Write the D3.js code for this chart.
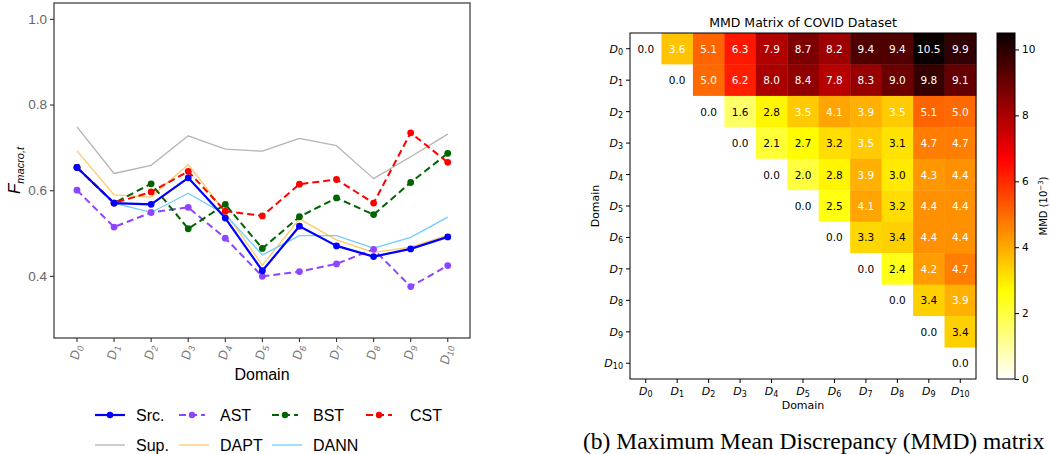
<!DOCTYPE html>
<html>
<head>
<meta charset="utf-8">
<script src="https://cdn.jsdelivr.net/npm/d3@7"></script>
<style>
  html, body { margin: 0; padding: 0; background: #fff; }
  svg { display: block; }
</style>
</head>
<body>
<svg id="chart" width="1050" height="454"></svg>
<script>
// ---------------- Data ----------------
const domains = ["0","1","2","3","4","5","6","7","8","9","10"];
const yTicks = [0.4, 0.6, 0.8, 1.0];

const srcVals  = [0.653, 0.570, 0.567, 0.629, 0.535, 0.412, 0.516, 0.470, 0.445, 0.463, 0.491];
const astVals  = [0.600, 0.514, 0.548, 0.560, 0.488, 0.399, 0.410, 0.428, 0.462, 0.375, 0.424];
const bstVals  = [0.653, 0.570, 0.615, 0.510, 0.567, 0.464, 0.538, 0.582, 0.543, 0.618, 0.686];
const cstVals  = [0.653, 0.570, 0.596, 0.644, 0.551, 0.540, 0.614, 0.625, 0.570, 0.734, 0.665];
const supVals  = [0.748, 0.639, 0.658, 0.727, 0.696, 0.691, 0.721, 0.704, 0.627, 0.678, 0.731];
const daptVals = [0.692, 0.589, 0.584, 0.660, 0.548, 0.425, 0.533, 0.484, 0.455, 0.467, 0.495];
const dannVals = [0.653, 0.570, 0.548, 0.593, 0.543, 0.449, 0.494, 0.494, 0.465, 0.490, 0.537];

const seriesNames = ["Src.", "AST", "BST", "CST", "Sup.", "DAPT", "DANN"];

// MMD upper-triangle rows (row i starts at column i), units 1e-3
const mmdRows = [
  [0.0, 3.6, 5.1, 6.3, 7.9, 8.7, 8.2, 9.4, 9.4, 10.5, 9.9],
  [0.0, 5.0, 6.2, 8.0, 8.4, 7.8, 8.3, 9.0, 9.8, 9.1],
  [0.0, 1.6, 2.8, 3.5, 4.1, 3.9, 3.5, 5.1, 5.0],
  [0.0, 2.1, 2.7, 3.2, 3.5, 3.1, 4.7, 4.7],
  [0.0, 2.0, 2.8, 3.9, 3.0, 4.3, 4.4],
  [0.0, 2.5, 4.1, 3.2, 4.4, 4.4],
  [0.0, 3.3, 3.4, 4.4, 4.4],
  [0.0, 2.4, 4.2, 4.7],
  [0.0, 3.4, 3.9],
  [0.0, 3.4],
  [0.0]
];
const cbarTicks = [0, 2, 4, 6, 8, 10];

// ---------------- Styles ----------------
const styles = {
  "Src.": {color: "#0000ff", width: 2.2, dash: null, marker: true},
  "AST":  {color: "#8f45ff", width: 2.0, dash: "7,4", marker: true},
  "BST":  {color: "#006400", width: 2.0, dash: "7,4", marker: true},
  "CST":  {color: "#ff0000", width: 2.0, dash: "7,4", marker: true},
  "Sup.": {color: "#b4b4b4", width: 1.3, dash: null, marker: false},
  "DAPT": {color: "#ffc966", width: 1.3, dash: null, marker: false},
  "DANN": {color: "#70ccff", width: 1.3, dash: null, marker: false}
};
const seriesData = {
  "Src.": srcVals, "AST": astVals, "BST": bstVals, "CST": cstVals,
  "Sup.": supVals, "DAPT": daptVals, "DANN": dannVals
};
const drawOrder = ["Sup.", "DAPT", "DANN", "AST", "BST", "CST", "Src."];

const svg = d3.select("#chart");
const SANS = "'Liberation Sans', Arial, sans-serif";
const DJ = "'DejaVu Sans', sans-serif";

// ---------------- Left line chart ----------------
const L = {x0: 54, x1: 470, y0: 3, y1: 338};
const x = d3.scaleLinear().domain([-0.62, 10.6]).range([L.x0, L.x1]);
const y = d3.scaleLinear().domain([0.255, 1.037]).range([L.y1, L.y0]);

const left = svg.append("g");

const line = d3.line().x((d, i) => x(i)).y(d => y(d));
drawOrder.forEach(name => {
  const s = styles[name];
  left.append("path")
    .datum(seriesData[name])
    .attr("d", line)
    .attr("fill", "none")
    .attr("stroke", s.color)
    .attr("stroke-width", s.width)
    .attr("stroke-dasharray", s.dash)
    .attr("stroke-linejoin", "round");
  if (s.marker) {
    left.selectAll(null).data(seriesData[name]).enter().append("circle")
      .attr("cx", (d, i) => x(i)).attr("cy", d => y(d)).attr("r", 3.4)
      .attr("fill", s.color);
  }
});

// frame
left.append("rect")
  .attr("x", L.x0).attr("y", L.y0)
  .attr("width", L.x1 - L.x0).attr("height", L.y1 - L.y0)
  .attr("fill", "none").attr("stroke", "#333").attr("stroke-width", 1.2);

// y axis
const yAxis = d3.axisLeft(y).tickValues(yTicks).tickFormat(d3.format(".1f")).tickSize(4).tickPadding(3);
const yg = left.append("g").attr("transform", `translate(${L.x0},0)`).call(yAxis);
yg.select(".domain").remove();
yg.selectAll("line").attr("stroke", "#333").attr("stroke-width", 1.1);
yg.selectAll("text").attr("font-family", SANS).attr("font-size", 13.5).attr("fill", "#666");

// x axis ticks
const xg = left.append("g");
domains.forEach((d, i) => {
  xg.append("line").attr("x1", x(i)).attr("x2", x(i)).attr("y1", L.y1).attr("y2", L.y1 + 4)
    .attr("stroke", "#333").attr("stroke-width", 1.1);
  const t = xg.append("text")
    .attr("transform", `translate(${x(i) + 4},${L.y1 + 8}) rotate(-80)`)
    .attr("text-anchor", "end")
    .attr("font-family", SANS).attr("font-size", 13).attr("fill", "#777")
    .attr("font-style", "italic");
  t.append("tspan").text("D");
  t.append("tspan").attr("font-size", 9).attr("dy", 3).text(d);
});

left.append("text").attr("x", (L.x0 + L.x1) / 2).attr("y", 380)
  .attr("text-anchor", "middle").attr("font-family", SANS).attr("font-size", 16).text("Domain");

// y label
const yl = left.append("text")
  .attr("transform", `translate(20,${(L.y0 + L.y1) / 2}) rotate(-90)`)
  .attr("text-anchor", "middle").attr("font-family", SANS).attr("font-style", "italic");
yl.append("tspan").attr("font-size", 17).text("F");
yl.append("tspan").attr("font-size", 11).attr("dy", 4).text("macro,t");

// legend
const legendPos = [
  {hx: 95, tx: 136, y: 415}, {hx: 179, tx: 220, y: 415}, {hx: 272, tx: 313, y: 415}, {hx: 366, tx: 410, y: 415},
  {hx: 95, tx: 136, y: 445}, {hx: 179, tx: 220, y: 445}, {hx: 272, tx: 313, y: 445}
];
seriesNames.forEach((name, k) => {
  const s = styles[name], p = legendPos[k];
  const hw = s.marker && s.dash ? 26 : 30;
  left.append("line").attr("x1", p.hx).attr("x2", p.hx + hw).attr("y1", p.y).attr("y2", p.y)
    .attr("stroke", s.color).attr("stroke-width", s.width).attr("stroke-dasharray", s.dash);
  if (s.marker) {
    left.append("circle").attr("cx", p.hx + hw / 2).attr("cy", p.y).attr("r", 3.2).attr("fill", s.color);
  }
  left.append("text").attr("x", p.tx).attr("y", p.y + 5.5)
    .attr("font-family", SANS).attr("font-size", 16).text(name);
});

// ---------------- Right heatmap ----------------
const H = {x0: 630, x1: 976, y0: 33, y1: 379};
const vmax = 10.5;
const hx = d3.scaleBand().domain(d3.range(11)).range([H.x0, H.x1]);
const hy = d3.scaleBand().domain(d3.range(11)).range([H.y0, H.y1]);

function hot(s) {
  const c = v => Math.max(0, Math.min(1, v));
  const r = c(0.0416 + (1 - 0.0416) * s / 0.365079);
  const g = c((s - 0.365079) / (0.746032 - 0.365079));
  const b = c((s - 0.746032) / (1 - 0.746032));
  return d3.rgb(r * 255, g * 255, b * 255);
}
const hotR = v => hot(1 - Math.max(0, Math.min(1, v / vmax)));

const right = svg.append("g");
const cells = [];
mmdRows.forEach((row, i) => row.forEach((v, k) => cells.push({i, j: i + k, v})));

right.selectAll("rect.cell").data(cells).enter().append("rect")
  .attr("class", "cell")
  .attr("x", d => hx(d.j)).attr("y", d => hy(d.i))
  .attr("width", hx.bandwidth() + 0.4).attr("height", hy.bandwidth() + 0.4)
  .attr("fill", d => hotR(d.v));

right.selectAll("text.ann").data(cells).enter().append("text")
  .attr("class", "ann")
  .attr("x", d => hx(d.j) + hx.bandwidth() / 2)
  .attr("y", d => hy(d.i) + hy.bandwidth() / 2 + 4)
  .attr("text-anchor", "middle").attr("font-family", DJ).attr("font-size", 10.5)
  .attr("fill", d => d.v > 3.45 ? "#fff" : "#000")
  .text(d => d.v.toFixed(1));

right.append("rect").attr("x", H.x0).attr("y", H.y0)
  .attr("width", H.x1 - H.x0).attr("height", H.y1 - H.y0)
  .attr("fill", "none").attr("stroke", "#000").attr("stroke-width", 1);

// heatmap ticks
domains.forEach((d, i) => {
  const cy = hy(i) + hy.bandwidth() / 2;
  right.append("line").attr("x1", H.x0 - 4).attr("x2", H.x0).attr("y1", cy).attr("y2", cy).attr("stroke", "#000");
  const ty = right.append("text").attr("x", H.x0 - 7).attr("y", cy + 4)
    .attr("text-anchor", "end").attr("font-family", DJ).attr("font-size", 11);
  ty.append("tspan").attr("font-style", "italic").text("D");
  ty.append("tspan").attr("font-size", 8).attr("dy", 2).text(d);

  const cx = hx(i) + hx.bandwidth() / 2;
  right.append("line").attr("x1", cx).attr("x2", cx).attr("y1", H.y1).attr("y2", H.y1 + 4).attr("stroke", "#000");
  const tx = right.append("text").attr("x", cx).attr("y", H.y1 + 16)
    .attr("text-anchor", "middle").attr("font-family", DJ).attr("font-size", 11);
  tx.append("tspan").attr("font-style", "italic").text("D");
  tx.append("tspan").attr("font-size", 8).attr("dy", 2).text(d);
});

right.append("text").attr("x", (H.x0 + H.x1) / 2).attr("y", 409)
  .attr("text-anchor", "middle").attr("font-family", DJ).attr("font-size", 11).text("Domain");
right.append("text").attr("transform", `translate(599,${(H.y0 + H.y1) / 2}) rotate(-90)`)
  .attr("text-anchor", "middle").attr("font-family", DJ).attr("font-size", 11).text("Domain");
right.append("text").attr("x", (H.x0 + H.x1) / 2).attr("y", 27)
  .attr("text-anchor", "middle").attr("font-family", DJ).attr("font-size", 12.5).text("MMD Matrix of COVID Dataset");

// colorbar
const C = {x0: 997, x1: 1015};
const cs = d3.scaleLinear().domain([0, vmax]).range([H.y1, H.y0]);
const defs = svg.append("defs");
const grad = defs.append("linearGradient").attr("id", "cbar")
  .attr("x1", 0).attr("y1", 1).attr("x2", 0).attr("y2", 0);
d3.range(0, 1.0001, 0.01).forEach(t => {
  grad.append("stop").attr("offset", t).attr("stop-color", hotR(t * vmax));
});
right.append("rect").attr("x", C.x0).attr("y", cs(vmax)).attr("width", C.x1 - C.x0)
  .attr("height", cs(0) - cs(vmax)).attr("fill", "url(#cbar)")
  .attr("stroke", "#000").attr("stroke-width", 1);
const cAxis = d3.axisRight(cs).tickValues(cbarTicks).tickSize(4).tickPadding(3);
const cg = right.append("g").attr("transform", `translate(${C.x1},0)`).call(cAxis);
cg.select(".domain").remove();
cg.selectAll("text").attr("font-family", DJ).attr("font-size", 10.5).attr("fill", "#000");

const cl = right.append("text").attr("transform", `translate(1047,${(H.y0 + H.y1) / 2}) rotate(-90)`)
  .attr("text-anchor", "middle").attr("font-family", DJ).attr("font-size", 10);
cl.append("tspan").text("MMD (10");
cl.append("tspan").attr("font-size", 7).attr("dy", -4).text("−3");
cl.append("tspan").attr("dy", 4).text(")");

// caption
svg.append("text").attr("x", 583).attr("y", 449)
  .attr("font-family", "'Liberation Serif', 'Times New Roman', serif").attr("font-size", 23.5)
  .text("(b) Maximum Mean Discrepancy (MMD) matrix");
</script>
</body>
</html>
